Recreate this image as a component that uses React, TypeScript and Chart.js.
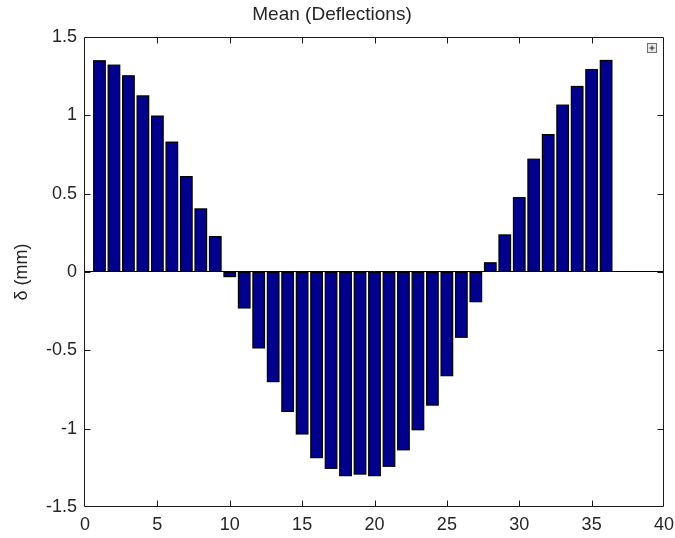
import { useEffect, useRef } from "react";
import { Chart, registerables } from "chart.js";

Chart.register(...registerables);

// Station index along the span
const positions = [
  1, 2, 3, 4, 5, 6, 7, 8, 9, 10, 11, 12, 13, 14, 15, 16, 17, 18,
  19, 20, 21, 22, 23, 24, 25, 26, 27, 28, 29, 30, 31, 32, 33, 34, 35, 36,
];

// Mean deflection at each station (mm)
const deflections = [
  1.347, 1.319, 1.251, 1.123, 0.994, 0.828, 0.608, 0.402, 0.225, -0.03,
  -0.23, -0.485, -0.7, -0.89, -1.034, -1.185, -1.253, -1.3, -1.29, -1.3,
  -1.24, -1.135, -1.007, -0.85, -0.662, -0.417, -0.19, 0.058, 0.236, 0.474,
  0.719, 0.876, 1.064, 1.183, 1.291, 1.349,
];

const xTicks = [0, 5, 10, 15, 20, 25, 30, 35, 40];
const yTicks = [-1.5, -1, -0.5, 0, 0.5, 1, 1.5];

const chartTitle = "Mean (Deflections)";
const yLabel = "δ (mm)";

const FONT = "'Liberation Sans', Arial, sans-serif";
const TEXT = "#262626";

// Black outline centred on each bar's edge
const barEdgePlugin = {
  id: "barEdges",
  afterDatasetsDraw(chart: any) {
    const { ctx } = chart;
    const meta = chart.getDatasetMeta(0);
    ctx.save();
    ctx.strokeStyle = "#000000";
    ctx.lineWidth = 1.2;
    for (const el of meta.data) {
      const { x, y, base, width } = el.getProps(["x", "y", "base", "width"], true);
      const top = Math.min(y, base);
      const h = Math.abs(base - y);
      ctx.strokeRect(x - width / 2, top, width, h);
    }
    ctx.restore();
  },
};

// Box frame with inward tick marks on all four sides, plus the small
// legend toggle glyph in the upper-right corner.
const framePlugin = {
  id: "frame",
  afterDraw(chart: any) {
    const { ctx, chartArea: a, scales } = chart;
    const L = Math.round(a.left) - 0.5;
    const R = Math.round(a.right) - 0.5;
    const T = Math.round(a.top) + 0.5;
    const B = Math.round(a.bottom) - 0.5;
    const tl = 6;
    ctx.save();
    ctx.strokeStyle = "#1a1a1a";
    ctx.lineWidth = 1;
    ctx.beginPath();
    ctx.rect(L, T, R - L, B - T);
    for (const t of scales.x.ticks) {
      const px = Math.round(scales.x.getPixelForValue(t.value)) + 0.5;
      if (px <= L + 1 || px >= R - 1) continue;
      ctx.moveTo(px, B);
      ctx.lineTo(px, B - tl);
      ctx.moveTo(px, T);
      ctx.lineTo(px, T + tl);
    }
    for (const t of scales.y.ticks) {
      const py = Math.round(scales.y.getPixelForValue(t.value)) + 0.5;
      if (py <= T + 1 || py >= B - 1) continue;
      ctx.moveTo(L, py);
      ctx.lineTo(L + tl, py);
      ctx.moveTo(R, py);
      ctx.lineTo(R - tl, py);
    }
    ctx.stroke();

    // legend toggle glyph
    const bx = Math.round(a.right) - 16.5;
    const by = Math.round(a.top) + 6.5;
    const s = 9;
    ctx.fillStyle = "#e8e8e8";
    ctx.fillRect(bx, by, s, s);
    ctx.strokeStyle = "#707070";
    ctx.strokeRect(bx, by, s, s);
    ctx.strokeStyle = "#202020";
    ctx.beginPath();
    ctx.moveTo(bx + 2, by + s / 2);
    ctx.lineTo(bx + s - 2, by + s / 2);
    ctx.moveTo(bx + s / 2, by + 2);
    ctx.lineTo(bx + s / 2, by + s - 2);
    ctx.stroke();
    ctx.restore();
  },
};

export default function App() {
  const canvasRef = useRef<HTMLCanvasElement | null>(null);

  useEffect(() => {
    const canvas = canvasRef.current;
    if (!canvas) return;

    const chart = new Chart(canvas, {
      type: "bar",
      data: {
        datasets: [
          {
            data: positions.map((x, i) => ({ x, y: deflections[i] })),
            backgroundColor: "#00008C",
            borderWidth: 0,
            barPercentage: 0.8,
            categoryPercentage: 1,
          },
        ],
      },
      options: {
        animation: false,
        responsive: false,
        devicePixelRatio: 1,
        layout: { padding: { left: 0, right: 11, top: 0, bottom: 0 } },
        plugins: {
          legend: { display: false },
          tooltip: { enabled: false },
          title: {
            display: true,
            text: chartTitle,
            color: TEXT,
            font: { family: FONT, size: 19, weight: "normal" },
            padding: { top: 3, bottom: 11 },
          },
        },
        scales: {
          x: {
            type: "linear",
            min: 0,
            max: 40,
            offset: false,
            afterBuildTicks: (scale: any) => {
              scale.ticks = xTicks.map((v) => ({ value: v }));
            },
            afterFit: (scale: any) => {
              scale.height = 31;
              scale.paddingLeft = 0;
              scale.paddingRight = 0;
            },
            ticks: {
              color: TEXT,
              font: { family: FONT, size: 18 },
              padding: 7,
              maxRotation: 0,
              autoSkip: false,
              callback: (v: any) => String(v),
            },
            grid: { display: false, drawTicks: false },
            border: { display: false },
          },
          y: {
            type: "linear",
            min: -1.5,
            max: 1.5,
            afterBuildTicks: (scale: any) => {
              scale.ticks = yTicks.map((v) => ({ value: v }));
            },
            afterFit: (scale: any) => {
              scale.width = 85;
              scale.paddingTop = 0;
              scale.paddingBottom = 0;
            },
            ticks: {
              color: TEXT,
              font: { family: FONT, size: 18 },
              padding: 8,
              autoSkip: false,
              callback: (v: any) => String(Number(v)),
            },
            grid: {
              drawTicks: false,
              lineWidth: 1,
              color: (c: any) => (c.tick && c.tick.value === 0 ? "#000000" : "rgba(0,0,0,0)"),
            },
            border: { display: false },
            title: {
              display: true,
              text: yLabel,
              color: TEXT,
              font: { family: FONT, size: 18 },
              padding: { top: 11, bottom: 0 },
            },
          },
        },
      },
      plugins: [barEdgePlugin, framePlugin],
    });

    return () => chart.destroy();
  }, []);

  return (
    <div style={{ position: "absolute", left: 0, top: 0, width: 675, height: 538, background: "#ffffff" }}>
      <canvas ref={canvasRef} width={675} height={538} style={{ display: "block" }} />
    </div>
  );
}
